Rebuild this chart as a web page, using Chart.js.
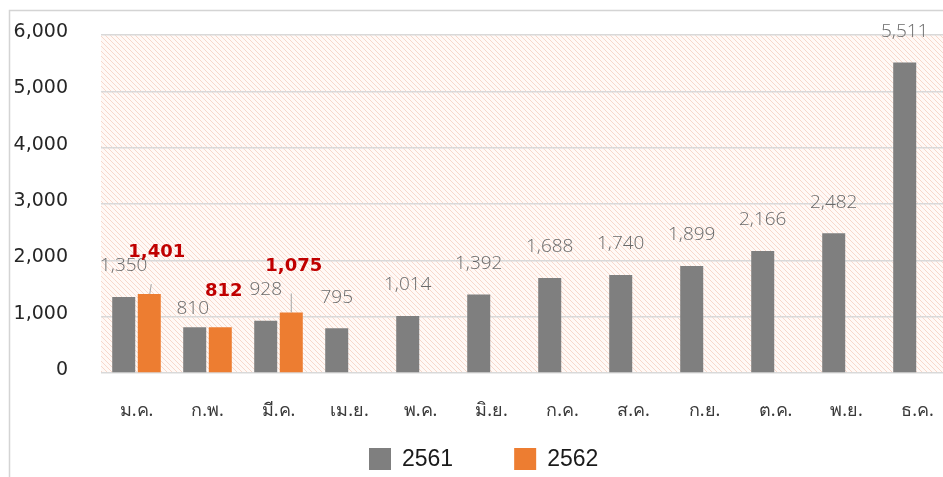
<!DOCTYPE html>
<html>
<head>
<meta charset="utf-8">
<script src="https://cdn.jsdelivr.net/npm/chart.js@4.4.0/dist/chart.umd.min.js"></script>
<style>
  html, body { margin: 0; padding: 0; background: #ffffff; overflow: hidden; }
  #wrap { width: 943px; height: 477px; position: relative; overflow: hidden; }
</style>
</head>
<body>
<div id="wrap"><canvas id="graficoMesi" width="960" height="477"></canvas></div>
<script>
// dati
const mesi = ['ม.ค.', 'ก.พ.', 'มี.ค.', 'เม.ย.', 'พ.ค.', 'มิ.ย.', 'ก.ค.', 'ส.ค.', 'ก.ย.', 'ต.ค.', 'พ.ย.', 'ธ.ค.'];
const anno2561 = [1350, 810, 928, 795, 1014, 1392, 1688, 1740, 1899, 2166, 2482, 5511];
const anno2562 = [1401, 812, 1075, null, null, null, null, null, null, null, null, null];
const etichetteAnni = ['2561', '2562'];
const tickY = [0, 1000, 2000, 3000, 4000, 5000, 6000];

const GRIGIO = '#7f7f7f';
const ARANCIO = '#ed7d31';
const ROSSO = '#c00000';

// motivo a righe diagonali per lo sfondo dell'area
function creaTratteggio() {
    const n = 5;
    const c = document.createElement('canvas');
    c.width = n; c.height = n;
    const g = c.getContext('2d');
    const img = g.createImageData(n, n);
    for (let y = 0; y < n; y++) {
        for (let x = 0; x < n; x++) {
            const i = (y * n + x) * 4;
            const riga = (x === y);
            img.data[i] = riga ? 247 : 255;
            img.data[i + 1] = riga ? 216 : 249;
            img.data[i + 2] = riga ? 203 : 246;
            img.data[i + 3] = 255;
        }
    }
    g.putImageData(img, 0, 0);
    return c;
}

const pluginSfondo = {
    id: 'sfondo',
    beforeDraw(chart) {
        const { ctx, chartArea } = chart;
        ctx.save();
        ctx.fillStyle = '#ffffff';
        ctx.fillRect(0, 0, chart.width, chart.height);
        // cornice
        ctx.strokeStyle = '#d4d4d4';
        ctx.lineWidth = 1.5;
        ctx.beginPath();
        ctx.moveTo(9.5, chart.height + 2);
        ctx.lineTo(9.5, 10.5);
        ctx.lineTo(chart.width + 2, 10.5);
        ctx.stroke();
        // area tratteggiata
        ctx.fillStyle = ctx.createPattern(creaTratteggio(), 'repeat');
        ctx.fillRect(chartArea.left, chartArea.top, chartArea.right - chartArea.left, chartArea.bottom - chartArea.top);
        ctx.restore();
    }
};

// etichette dei valori con scostamenti come nell'originale
const pluginEtichette = {
    id: 'etichette',
    afterDatasetsDraw(chart, args, opts) {
        const { ctx } = chart;
        ctx.save();
        ctx.textAlign = 'center';
        ctx.textBaseline = 'middle';
        chart.data.datasets.forEach((ds, di) => {
            const meta = chart.getDatasetMeta(di);
            const conf = opts.serie[di];
            meta.data.forEach((bar, i) => {
                const v = ds.data[i];
                if (v === null || v === undefined) return;
                const sp = (conf.spost && conf.spost[i]) || conf.base;
                const tx = bar.x + sp[0];
                const ty = bar.y + sp[1];
                if (sp[2]) {
                    ctx.strokeStyle = '#a6a6a6';
                    ctx.lineWidth = 1;
                    ctx.beginPath();
                    ctx.moveTo(bar.x + sp[2][0], bar.y);
                    ctx.lineTo(bar.x + sp[2][1], bar.y - sp[2][2]);
                    ctx.stroke();
                }
                ctx.font = conf.font;
                ctx.fillStyle = conf.colore;
                ctx.fillText(v.toLocaleString('en-US'), tx, ty);
            });
        });
        ctx.restore();
    }
};

// legenda disegnata a mano
const pluginLegenda = {
    id: 'legendaManuale',
    afterDraw(chart, args, opts) {
        const { ctx } = chart;
        ctx.save();
        ctx.font = opts.font;
        ctx.textBaseline = 'middle';
        ctx.textAlign = 'left';
        let x = opts.x;
        chart.data.datasets.forEach(ds => {
            ctx.fillStyle = ds.backgroundColor;
            ctx.fillRect(x, opts.y - opts.box / 2, opts.box, opts.box);
            ctx.fillStyle = '#1a1a1a';
            ctx.fillText(ds.label, x + opts.box + 11, opts.y + 1);
            x += opts.box + 11 + ctx.measureText(ds.label).width + opts.spazio;
        });
        ctx.restore();
    }
};

const ctx = document.getElementById('graficoMesi').getContext('2d');
new Chart(ctx, {
    type: 'bar',
    data: {
        labels: mesi,
        datasets: [
            {
                label: etichetteAnni[0],
                data: anno2561,
                backgroundColor: GRIGIO,
                borderWidth: 0,
                categoryPercentage: 0.72,
                barPercentage: 0.9
            },
            {
                label: etichetteAnni[1],
                data: anno2562,
                backgroundColor: ARANCIO,
                borderWidth: 0,
                categoryPercentage: 0.72,
                barPercentage: 0.9
            }
        ]
    },
    options: {
        responsive: false,
        animation: false,
        layout: { padding: { left: 0, right: 7, top: 35, bottom: 44 } },
        plugins: {
            legend: { display: false },
            tooltip: { enabled: false },
            etichette: {
                serie: [
                    {
                        font: '300 19px "Open Sans"',
                        colore: '#6a6a6a',
                        base: [0, -31],
                        spost: { 1: [-2, -19] }
                    },
                    {
                        font: 'bold 18px "DejaVu Sans"',
                        colore: ROSSO,
                        base: [0, -36],
                        spost: {
                            0: [7.5, -42, [0.5, 2, 10]],
                            1: [3.5, -36],
                            2: [2.5, -46.5, [0, 0, 19]]
                        }
                    }
                ]
            },
            legendaManuale: { x: 369, y: 459, box: 22, spazio: 61, font: '23px "Liberation Sans"' }
        },
        scales: {
            x: {
                afterFit(scale) {
                    scale.height = 60;
                    scale.paddingLeft = 0;
                    scale.paddingRight = 0;
                },
                grid: { display: false },
                border: { display: false },
                ticks: {
                    padding: 19,
                    color: '#3a3a3a',
                    font: { family: '"Noto Sans", "DejaVu Sans", sans-serif', size: 18 }
                }
            },
            y: {
                min: 0,
                max: 6000,
                afterFit(scale) {
                    scale.width = 101;
                    scale.paddingTop = 0;
                    scale.paddingBottom = 0;
                },
                afterBuildTicks(scale) { scale.ticks = tickY.map(v => ({ value: v })); },
                grid: { color: '#d9d9d9', lineWidth: 1.5, drawTicks: false },
                border: { display: false },
                ticks: {
                    padding: 33,
                    labelOffset: -3,
                    color: '#262626',
                    font: { family: '"DejaVu Sans"', size: 19 },
                    callback: v => v.toLocaleString('en-US')
                }
            }
        }
    },
    plugins: [pluginSfondo, pluginEtichette, pluginLegenda]
});
</script>
</body>
</html>
